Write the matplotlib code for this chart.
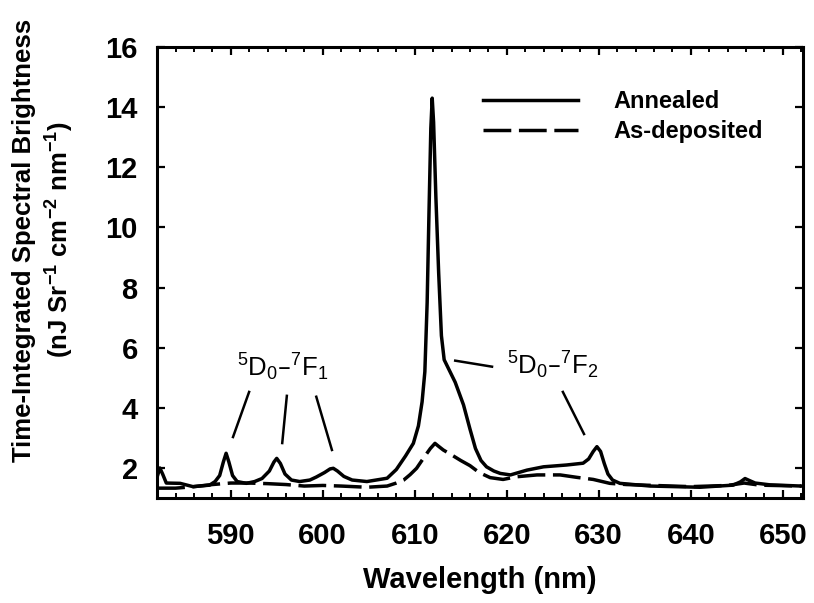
import matplotlib
matplotlib.use('Agg')
import matplotlib.pyplot as plt
from matplotlib.ticker import MultipleLocator

plt.rcParams['font.family'] = ['Liberation Sans', 'DejaVu Sans']
plt.rcParams['mathtext.default'] = 'regular'

# annealed spectrum (wavelength nm, brightness)
wl_ann = [582.0, 582.3, 582.6, 583.0, 584.5, 585.9, 587.7, 588.3, 588.8, 589.2,
          589.5, 589.8, 590.2, 590.7, 591.7, 592.6, 593.4, 594.2, 594.7, 595.0,
          595.4, 595.9, 596.6, 597.5, 598.6, 599.3, 600.2, 600.8, 601.15, 601.6,
          602.3, 603.2, 604.8, 607.0, 608.0, 609.0, 609.85, 610.4, 610.8, 611.1,
          611.35, 611.55, 611.75, 611.9, 612.05, 612.3, 612.6, 612.9, 613.2, 613.6,
          614.4, 615.3, 616.0, 616.6, 617.2, 617.8, 618.6, 619.3, 620.4, 622.2,
          624.0, 626.5, 628.3, 628.9, 629.4, 629.8, 630.2, 630.6, 631.0, 631.5,
          632.3, 635.6, 641.0, 644.6, 645.4, 645.9, 646.4, 647.0, 648.6, 652.0]
br_ann = [1.7, 2.0, 1.8, 1.5, 1.49, 1.38, 1.43, 1.55, 1.75, 2.2,
          2.49, 2.2, 1.75, 1.55, 1.49, 1.55, 1.65, 1.9, 2.2, 2.32,
          2.15, 1.8, 1.6, 1.55, 1.6, 1.7, 1.85, 1.97, 1.99, 1.9,
          1.72, 1.6, 1.55, 1.66, 1.95, 2.4, 2.82, 3.4, 4.2, 5.2,
          7.5, 10.5, 13.3, 14.3, 13.5, 11.0, 8.5, 6.4, 5.6, 5.35,
          4.85, 4.1, 3.3, 2.65, 2.25, 2.04, 1.9, 1.82, 1.77, 1.93,
          2.04, 2.1, 2.16, 2.3, 2.55, 2.71, 2.55, 2.15, 1.8, 1.6,
          1.49, 1.4, 1.36, 1.43, 1.54, 1.65, 1.58, 1.5, 1.44, 1.4]

# as-deposited spectrum
wl_dep = [582.0, 584.0, 586.0, 588.0, 590.0, 592.0, 594.0, 596.0, 598.0, 600.0,
          602.0, 604.8, 607.0, 608.0, 608.8, 609.5, 610.2, 611.0, 611.7, 612.2,
          612.6, 613.1, 614.2, 615.0, 616.0, 617.0, 618.2, 619.6, 621.1, 623.3,
          625.8, 627.6, 629.4, 631.2, 633.0, 636.0, 640.0, 644.0, 645.8, 647.5,
          652.0]
br_dep = [1.33, 1.33, 1.38, 1.45, 1.5, 1.5, 1.48, 1.45, 1.4, 1.42,
          1.4, 1.36, 1.4, 1.5, 1.6, 1.78, 1.99, 2.35, 2.65, 2.82,
          2.72, 2.6, 2.4, 2.25, 2.08, 1.85, 1.68, 1.62, 1.71, 1.77,
          1.77, 1.69, 1.62, 1.49, 1.45, 1.42, 1.38, 1.42, 1.5, 1.43,
          1.4]

series_labels = ['Annealed', 'As-deposited']
x_ticks = [590, 600, 610, 620, 630, 640, 650]
y_ticks = [2, 4, 6, 8, 10, 12, 14, 16]

# annotation lines: (x0, y0, x1, y1) in data units
f1_lines = [(592.0, 4.53, 590.25, 3.03),
            (596.1, 4.4, 595.6, 2.83),
            (599.3, 4.37, 601.0, 2.6)]
f2_lines = [(614.4, 5.57, 618.4, 5.37),
            (626.1, 4.53, 628.4, 3.13)]

fig = plt.figure(figsize=(8.14, 6.03), dpi=100)
ax = fig.add_axes([0.193, 0.174, 0.7935, 0.748])

ax.plot(wl_ann, br_ann, color='black', lw=2.5, label=series_labels[0])
ax.plot(wl_dep, br_dep, color='black', lw=2.5, dashes=(8, 2.2),
        label=series_labels[1])

for x0, y0, x1, y1 in f1_lines + f2_lines:
    ax.plot([x0, x1], [y0, y1], color='black', lw=1.8)

ax.text(595.7, 5.35, r'$^5$D$_0$–$^7$F$_1$', fontsize=18.5, ha='center', va='center')
ax.text(625.0, 5.4, r'$^5$D$_0$–$^7$F$_2$', fontsize=18.5, ha='center', va='center')

ax.set_xlim(582, 652.2)
ax.set_ylim(1, 16)
ax.set_xticks(x_ticks)
ax.set_yticks(y_ticks)
ax.xaxis.set_minor_locator(MultipleLocator(2))

for s in ax.spines.values():
    s.set_linewidth(2.2)
ax.tick_params(axis='x', which='major', direction='in', top=True, length=5.5,
               width=1.6, pad=17, labelsize=21)
ax.tick_params(axis='x', which='minor', direction='in', top=True, length=3.5,
               width=1.4)
ax.tick_params(axis='y', which='major', direction='in', right=True, length=5.5,
               width=1.6, pad=14, labelsize=21)
for lab in ax.get_xticklabels() + ax.get_yticklabels():
    lab.set_fontweight('bold')

ax.set_xlabel('Wavelength (nm)', fontsize=21, fontweight='bold', labelpad=12)
fig.text(0.054, 0.602,
         'Time-Integrated Spectral Brightness\n(nJ Sr$^{-1}$ cm$^{-2}$ nm$^{-1}$)',
         rotation=90, ha='center', va='center', multialignment='center',
         fontsize=18.5, fontweight='bold', linespacing=1.35)

ax.legend(loc='upper left', bbox_to_anchor=(0.505, 0.904), frameon=False,
          borderpad=0, borderaxespad=0, handlelength=4.0, handletextpad=1.5,
          labelspacing=0.3, prop={'size': 17, 'weight': 'bold'})

fig.savefig('out.png', dpi=100)
